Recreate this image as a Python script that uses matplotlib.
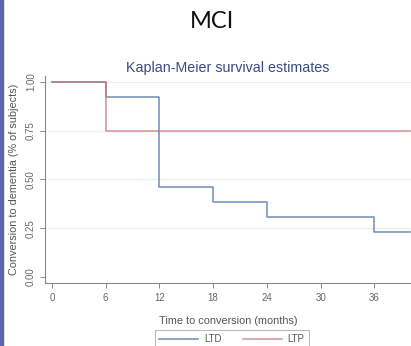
import numpy as np
import matplotlib
matplotlib.use("Agg")
import matplotlib.pyplot as plt
from matplotlib.patches import Rectangle

# Kaplan-Meier step data (months, survival fraction)
ltd_time = [0, 6, 12, 18, 24, 36, 40]
ltd_surv = [1.0, 12/13, 6/13, 5/13, 4/13, 3/13, 3/13]
ltp_time = [0, 6, 40]
ltp_surv = [1.0, 0.75, 0.75]

x_ticks = [0, 6, 12, 18, 24, 30, 36]
y_ticks = [0.0, 0.25, 0.5, 0.75, 1.0]
y_ticklabels = ["0.00", "0.25", "0.50", "0.75", "1.00"]

plt.rcParams['font.family'] = ['Liberation Sans', 'DejaVu Sans']

fig = plt.figure(figsize=(4.11, 3.46), dpi=100)
fig.patch.set_facecolor('white')

# slide border on the left
fig.patches.append(Rectangle((0, 0), 3/411, 1, transform=fig.transFigure,
                             color='#5b67a8', zorder=10))

fig.text(212/411, 1 - 22/346, "MCI", family=['Lato', 'DejaVu Sans'],
         fontsize=17, ha='center', va='center', color='#111111')

ax = fig.add_axes([45/411, 63/346, 1 - 45/411, 207/346])
ax.set_xlim(-0.78, 40.1)
ax.set_ylim(-0.031, 1.03)

for y in y_ticks[1:]:
    ax.axhline(y, color='#e8eff1', lw=0.8, zorder=0)

ax.step(ltd_time, ltd_surv, where='post', color='#6f8db5', lw=1.1, label='LTD')
ax.step(ltp_time, ltp_surv, where='post', color='#c9777c', lw=1.1, alpha=0.8, label='LTP')

for s in ['top', 'right']:
    ax.spines[s].set_visible(False)
for s in ['left', 'bottom']:
    ax.spines[s].set_color('#888888')
    ax.spines[s].set_linewidth(0.8)

ax.set_xticks(x_ticks)
ax.set_yticks(y_ticks)
ax.set_yticklabels(y_ticklabels, rotation=90, va='center')
ax.tick_params(axis='both', colors='#888888', labelcolor='#666666',
               labelsize=7, length=3.5, width=0.7)
ax.tick_params(axis='x', pad=4)
ax.tick_params(axis='y', pad=3)

ax.set_xlabel("Time to conversion (months)", fontsize=7.8, color='#555555', labelpad=9)
ax.set_ylabel("Conversion to dementia (% of subjects)", fontsize=7.8, color='#555555', labelpad=5)
ax.set_title("Kaplan-Meier survival estimates", fontsize=10.3, color='#3c4a80', pad=3)

leg = fig.legend(loc='upper center', bbox_to_anchor=(232/411, 1 - 325/346), ncol=2,
                 fontsize=7, frameon=True, fancybox=False, edgecolor='#aaaaaa',
                 handlelength=4, columnspacing=2.2, borderpad=0.45, handletextpad=0.6)
leg.get_frame().set_linewidth(0.8)
for t in leg.get_texts():
    t.set_color('#555555')

fig.savefig("out.png", dpi=100)
